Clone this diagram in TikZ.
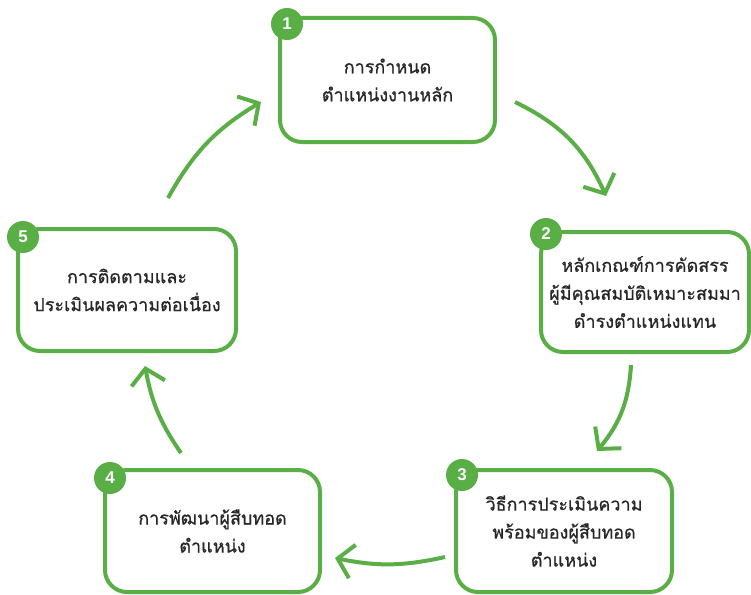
\documentclass[tikz,border=0pt]{standalone}
\usepackage{fontspec}
\newfontfamily\thaifont[Script=Thai,FakeBold=0.6]{Loma}
\newfontfamily\numfont{Liberation Sans}
\usetikzlibrary{arrows.meta}
\definecolor{leaf}{HTML}{5AAE46}
\begin{document}
\begin{tikzpicture}[x=1pt,y=-1pt,
    stepbox/.style={draw=leaf,line width=4pt,rounded corners=22pt,fill=white,
      align=center,font=\thaifont\fontsize{18}{28}\selectfont,text=black!85},
    badge/.style={circle,fill=leaf,text=white,minimum size=32pt,inner sep=0pt,
      font=\numfont\bfseries\fontsize{17}{17}\selectfont},
    flow/.style={draw=leaf,line width=4pt,
      -{Straight Barb[length=15pt,width=34pt,line width=4pt]}}]
    \useasboundingbox (0,0) rectangle (751,594);
    % boxes
    \node[stepbox,minimum width=215pt,minimum height=124pt] (s1) at (387.5,80)
        {การกำหนด\\ตำแหน่งงานหลัก};
    \node[stepbox,minimum width=208pt,minimum height=120pt] (s2) at (645,292)
        {หลักเกณฑ์การคัดสรร\\ผู้มีคุณสมบัติเหมาะสมมา\\ดำรงตำแหน่งแทน};
    \node[stepbox,minimum width=216pt,minimum height=122pt] (s3) at (564,531)
        {วิธีการประเมินความ\\พร้อมของผู้สืบทอด\\ตำแหน่ง};
    \node[stepbox,minimum width=215pt,minimum height=122pt] (s4) at (212.5,531)
        {การพัฒนาผู้สืบทอด\\ตำแหน่ง};
    \node[stepbox,minimum width=218pt,minimum height=122pt] (s5) at (127,290)
        {การติดตามและ\\ประเมินผลความต่อเนื่อง};
    % numbers
    \node[badge] (n1) at (287,24) {1};
    \node[badge] (n2) at (546,234) {2};
    \node[badge] (n3) at (462,475) {3};
    \node[badge] (n4) at (110,478) {4};
    \node[badge] (n5) at (23,237) {5};
    % arrow ends
    \coordinate (a1) at (515,102);  \coordinate (b1) at (606,196);
    \coordinate (a2) at (631,365);  \coordinate (b2) at (597,451);
    \coordinate (a3) at (445,557);  \coordinate (b3) at (335,558);
    \coordinate (a4) at (181,453);  \coordinate (b4) at (145,366);
    \coordinate (a5) at (168,198);  \coordinate (b5) at (261,102);
    \draw[flow] (a1) to[bend left=20] (b1);
    \draw[flow] (a2) to[bend left=18] (b2);
    \draw[flow] (a3) to[bend left=12] (b3);
    \draw[flow] (a4) to[bend left=12] (b4);
    \draw[flow] (a5) to[bend left=15] (b5);
\end{tikzpicture}
\end{document}
